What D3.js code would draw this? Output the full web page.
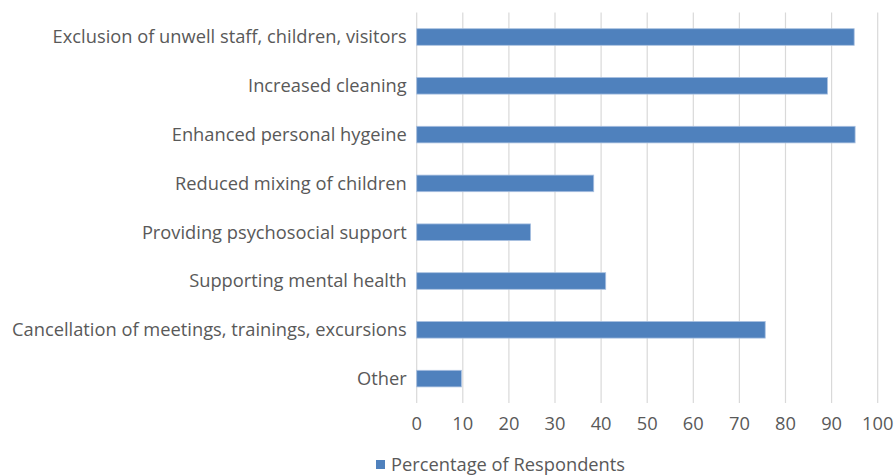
<!DOCTYPE html>
<html>
<head>
<meta charset="utf-8">
<script src="https://cdn.jsdelivr.net/npm/d3@7"></script>
<style>
  html, body { margin: 0; padding: 0; background: #ffffff; }
  svg { display: block; }
  text { font-family: "Open Sans", "Liberation Sans", sans-serif; fill: #595959; }
</style>
</head>
<body>
<svg id="chart" width="895" height="475"></svg>
<script>
// Measures taken by respondents (top to bottom)
const categories = [
  "Exclusion of unwell staff, children, visitors",
  "Increased cleaning",
  "Enhanced personal hygeine",
  "Reduced mixing of children",
  "Providing psychosocial support",
  "Supporting mental health",
  "Cancellation of meetings, trainings, excursions",
  "Other"
];
const values = [94.9, 89.1, 95.1, 38.4, 24.7, 41.0, 75.6, 9.7];
const xTicks = [0, 10, 20, 30, 40, 50, 60, 70, 80, 90, 100];
const seriesName = "Percentage of Respondents";

const svg = d3.select("#chart");
const margin = { top: 12.6, right: 17.3, bottom: 72, left: 416.7 };
const width = 895, height = 475;
const plotBottom = 403;

const x = d3.scaleLinear().domain([0, 100]).range([margin.left, width - margin.right]);
const y = d3.scaleBand().domain(categories).range([margin.top, plotBottom]).paddingInner(0.66).paddingOuter(0.33);

// vertical gridlines
svg.append("g")
  .selectAll("line")
  .data(xTicks)
  .join("line")
  .attr("x1", d => x(d)).attr("x2", d => x(d))
  .attr("y1", margin.top).attr("y2", plotBottom)
  .attr("stroke", "#d9d9d9")
  .attr("stroke-width", 1.2);

// bars
svg.append("g")
  .selectAll("rect")
  .data(categories.map((c, i) => ({ c, v: values[i] })))
  .join("rect")
  .attr("x", x(0))
  .attr("y", d => y(d.c))
  .attr("width", d => x(d.v) - x(0))
  .attr("height", y.bandwidth())
  .attr("fill", "#4f81bd")
  .attr("stroke", "#a9c0e0")
  .attr("stroke-width", 0.8);

// category labels
const fs = 18.3;
svg.append("g")
  .selectAll("text")
  .data(categories)
  .join("text")
  .attr("x", x(0) - 10)
  .attr("y", d => y(d) + y.bandwidth() / 2)
  .attr("dy", "0.35em")
  .attr("text-anchor", "end")
  .style("font-size", fs + "px")
  .text(d => d);

// x tick labels
svg.append("g")
  .selectAll("text")
  .data(xTicks)
  .join("text")
  .attr("x", d => x(d))
  .attr("y", 424)
  .attr("dy", "0.35em")
  .attr("text-anchor", "middle")
  .style("font-size", fs + "px")
  .text(d => d);

// legend
const lg = svg.append("g");
lg.append("rect")
  .attr("x", 376).attr("y", 460).attr("width", 9).attr("height", 9)
  .attr("fill", "#4f81bd");
lg.append("text")
  .attr("x", 391).attr("y", 465)
  .attr("dy", "0.35em")
  .style("font-size", fs + "px")
  .text(seriesName);
</script>
</body>
</html>
